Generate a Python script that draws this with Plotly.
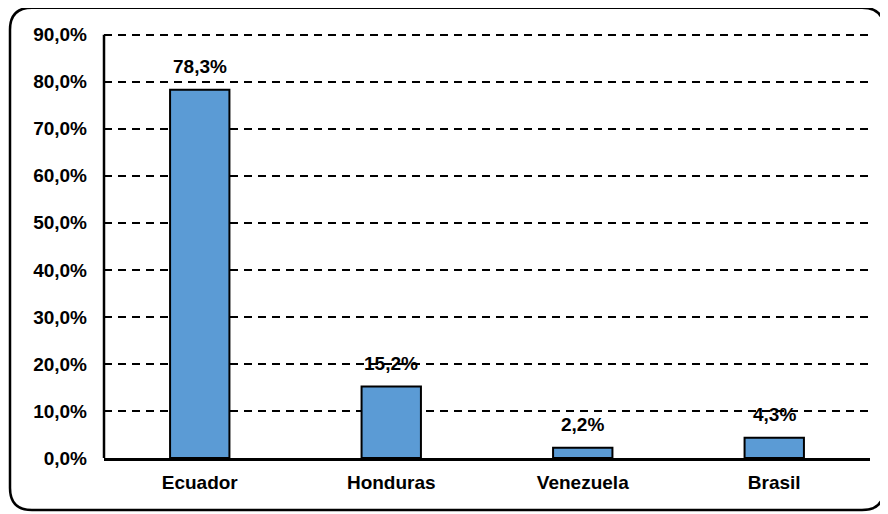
import plotly.graph_objects as go

paises = ['Ecuador', 'Honduras', 'Venezuela', 'Brasil']
porcentajes = [78.3, 15.2, 2.2, 4.3]
y_ticks = [0, 10, 20, 30, 40, 50, 60, 70, 80, 90]
y_ticktext = ['0,0%', '10,0%', '20,0%', '30,0%', '40,0%', '50,0%', '60,0%', '70,0%', '80,0%', '90,0%']
etiquetas = ['78,3%', '15,2%', '2,2%', '4,3%']

fuente = 'Liberation Sans, Arial, sans-serif'

fig = go.Figure()
fig.add_bar(
    x=paises,
    y=porcentajes,
    width=0.31,
    marker=dict(color='#5B9BD5', line=dict(color='black', width=2)),
    hoverinfo='skip'
)

for pais, valor, txt in zip(paises, porcentajes, etiquetas):
    fig.add_annotation(
        x=pais, y=valor, text='<b>' + txt + '</b>',
        showarrow=False, yanchor='bottom', yshift=11,
        font=dict(family=fuente, size=19, color='black')
    )

# el body de la pagina tiene 8px de margen, se compensa en los margenes
Y_MAX = 91
PW = 766
PH = round(423 * Y_MAX / 90, 1)
ML = 96
MT = 450 - PH
# marco redondeado alrededor del grafico (coordenadas de papel)
x0 = (2 - ML) / PW
x1 = (876 - ML) / PW
y1 = 1 + (MT - 0) / PH
y0 = -(502 - (MT + PH)) / PH
rx, ry = 22 / PW, 22 / PH
marco = (f'M {x0+rx},{y1} L {x1-rx},{y1} Q {x1},{y1} {x1},{y1-ry} '
         f'L {x1},{y0+ry} Q {x1},{y0} {x1-rx},{y0} '
         f'L {x0+rx},{y0} Q {x0},{y0} {x0},{y0+ry} '
         f'L {x0},{y1-ry} Q {x0},{y1} {x0+rx},{y1} Z')
fig.add_shape(type='path', path=marco, xref='paper', yref='paper',
              line=dict(color='black', width=2.5), layer='above')

fig.update_layout(
    width=888, height=514,
    margin=dict(l=ML, r=888 - ML - PW, t=MT, b=514 - MT - PH),
    plot_bgcolor='white', paper_bgcolor='white',
    showlegend=False,
    font=dict(family=fuente, size=19, color='black'),
    bargap=0.69
)
fig.update_xaxes(
    showline=True, linecolor='black', linewidth=2.5,
    showgrid=False, ticks='', tickfont=dict(family=fuente, size=19, color='black', weight='bold'),
    ticklabelstandoff=5
)
fig.update_yaxes(
    range=[0, Y_MAX], tickvals=y_ticks, ticktext=y_ticktext,
    showline=False, showgrid=True, gridcolor='black', gridwidth=2, griddash='8px,6px',
    zeroline=False, ticks='',
    tickfont=dict(family=fuente, size=19, color='black', weight='bold'),
    ticklabelstandoff=16
)
# eje vertical solo hasta 90%
fig.add_shape(type='line', x0=0, x1=0, xref='paper', y0=0, y1=90, yref='y',
              line=dict(color='black', width=2.5), layer='above')

fig.write_html('out.html')
